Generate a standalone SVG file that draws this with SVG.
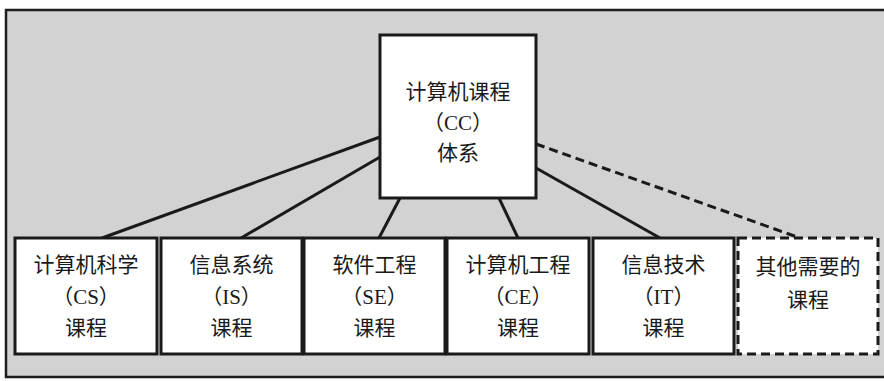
<svg xmlns="http://www.w3.org/2000/svg" width="884" height="381" viewBox="0 0 884 381">
<defs>
<style>
.frame{fill:#d2d2d2;stroke:#1e1e1e;stroke-width:2.5}
.box{fill:#ffffff;stroke:#1a1a1a;stroke-width:3}
.dbox{fill:#ffffff;stroke:#1a1a1a;stroke-width:3;stroke-dasharray:9 5}
.ln{stroke:#1a1a1a;stroke-width:3;fill:none}
.dln{stroke:#1a1a1a;stroke-width:3;fill:none;stroke-dasharray:9 5}
text{font-family:"Liberation Serif","Noto Sans CJK SC",serif;font-size:21px;fill:#1a1a1a;text-anchor:middle}
</style>
</defs>
<rect width="884" height="381" fill="#ffffff"/>
<rect class="frame" x="6" y="10" width="900" height="367"/>
<g id="connectors">
<line class="ln" x1="380" y1="137" x2="102" y2="238"/>
<line class="ln" x1="380" y1="157" x2="241" y2="238"/>
<line class="ln" x1="400" y1="198" x2="379" y2="238"/>
<line class="ln" x1="499" y1="198" x2="518" y2="238"/>
<line class="ln" x1="536" y1="168" x2="660" y2="238"/>
<line class="dln" x1="536" y1="144" x2="800" y2="238"/>
</g>
<g id="cc">
<rect class="box" x="380" y="35" width="156" height="163"/>
<text x="458" y="99">计算机课程</text>
<text x="458" y="130">（CC）</text>
<text x="458" y="160">体系</text>
</g>
<g id="cs">
<rect class="box" x="15" y="238" width="142" height="116"/>
<text x="86" y="272">计算机科学</text>
<text x="86" y="304">（CS）</text>
<text x="86" y="335">课程</text>
</g>
<g id="is">
<rect class="box" x="161" y="238" width="141" height="116"/>
<text x="231.5" y="272">信息系统</text>
<text x="231.5" y="304">（IS）</text>
<text x="231.5" y="335">课程</text>
</g>
<g id="se">
<rect class="box" x="304" y="238" width="141" height="116"/>
<text x="374.5" y="272">软件工程</text>
<text x="374.5" y="304">（SE）</text>
<text x="374.5" y="335">课程</text>
</g>
<g id="ce">
<rect class="box" x="447" y="238" width="142" height="116"/>
<text x="518" y="272">计算机工程</text>
<text x="518" y="304">（CE）</text>
<text x="518" y="335">课程</text>
</g>
<g id="it">
<rect class="box" x="593" y="238" width="141" height="116"/>
<text x="663.5" y="272">信息技术</text>
<text x="663.5" y="304">（IT）</text>
<text x="663.5" y="335">课程</text>
</g>
<g id="other">
<rect class="dbox" x="738" y="238" width="140" height="116"/>
<text x="808" y="274">其他需要的</text>
<text x="808" y="307">课程</text>
</g>
</svg>
